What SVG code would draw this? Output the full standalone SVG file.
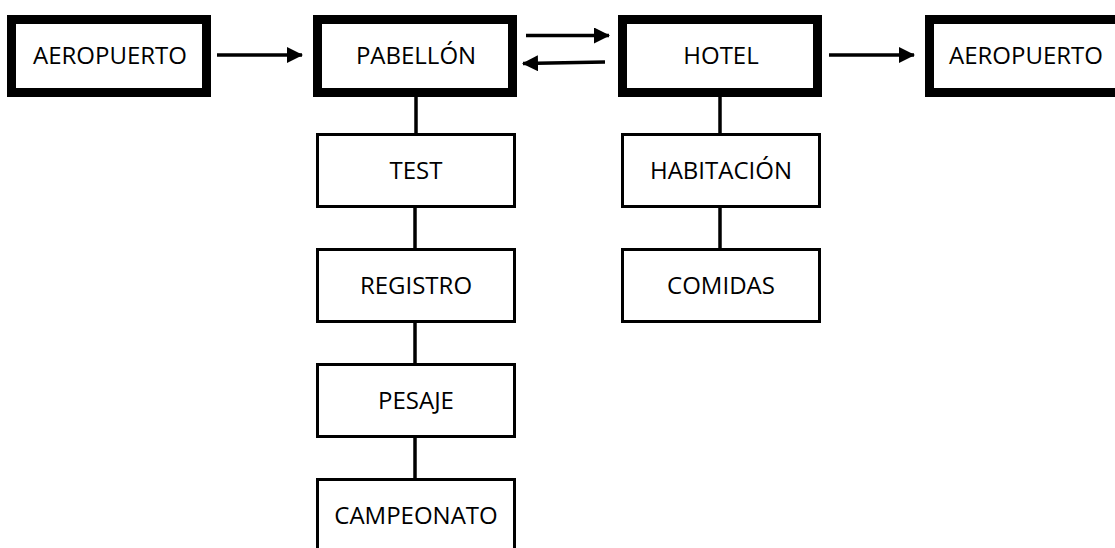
<svg xmlns="http://www.w3.org/2000/svg" width="1115" height="548" viewBox="0 0 1115 548">
<style>
.main{fill:#fff;stroke:#000;stroke-width:9}
.sub{fill:#fff;stroke:#000;stroke-width:3}
.lbl{font-family:"Open Sans","Noto Sans",sans-serif;font-size:24px;fill:#000;text-anchor:middle}
.con{stroke:#000;stroke-width:3.5;fill:none}
</style>
<defs>
<marker id="ah" markerUnits="userSpaceOnUse" markerWidth="16" markerHeight="16" viewBox="0 0 16 16" refX="15" refY="8" orient="auto">
<path d="M0,0 L16,8 L0,16 Z" fill="#000"/>
</marker>
</defs>
<g id="connectors">
<line class="con" x1="217" y1="55" x2="302" y2="55" marker-end="url(#ah)"/>
<line class="con" x1="526" y1="35.5" x2="609" y2="35.5" marker-end="url(#ah)"/>
<line class="con" x1="605" y1="62" x2="523" y2="63.5" marker-end="url(#ah)"/>
<line class="con" x1="829" y1="55" x2="914" y2="55" marker-end="url(#ah)"/>
<line class="con" x1="416" y1="97" x2="416" y2="133"/>
<line class="con" x1="415" y1="207" x2="415" y2="248"/>
<line class="con" x1="415" y1="322" x2="415" y2="363"/>
<line class="con" x1="415" y1="437" x2="415" y2="478"/>
<line class="con" x1="720" y1="97" x2="720" y2="133"/>
<line class="con" x1="720" y1="207" x2="720" y2="248"/>
</g>
<g id="aeropuerto1"><rect class="main" x="11.5" y="19.5" width="195" height="73"/><text class="lbl" x="110" y="64">AEROPUERTO</text></g>
<g id="pabellon"><rect class="main" x="317.5" y="19.5" width="195" height="73"/><text class="lbl" x="416" y="64">PABELLÓN</text></g>
<g id="hotel"><rect class="main" x="622.5" y="19.5" width="195" height="73"/><text class="lbl" x="721" y="64">HOTEL</text></g>
<g id="aeropuerto2"><rect class="main" x="929.5" y="19.5" width="205" height="73"/><text class="lbl" x="1026" y="64">AEROPUERTO</text></g>
<g id="test"><rect class="sub" x="317.5" y="134.5" width="197" height="72"/><text class="lbl" x="416" y="179">TEST</text></g>
<g id="registro"><rect class="sub" x="317.5" y="249.5" width="197" height="72"/><text class="lbl" x="416" y="294">REGISTRO</text></g>
<g id="pesaje"><rect class="sub" x="317.5" y="364.5" width="197" height="72"/><text class="lbl" x="416" y="409">PESAJE</text></g>
<g id="campeonato"><rect class="sub" x="317.5" y="479.5" width="197" height="90"/><text class="lbl" x="416" y="524">CAMPEONATO</text></g>
<g id="habitacion"><rect class="sub" x="622.5" y="134.5" width="197" height="72"/><text class="lbl" x="721" y="179">HABITACIÓN</text></g>
<g id="comidas"><rect class="sub" x="622.5" y="249.5" width="197" height="72"/><text class="lbl" x="721" y="294">COMIDAS</text></g>
</svg>
